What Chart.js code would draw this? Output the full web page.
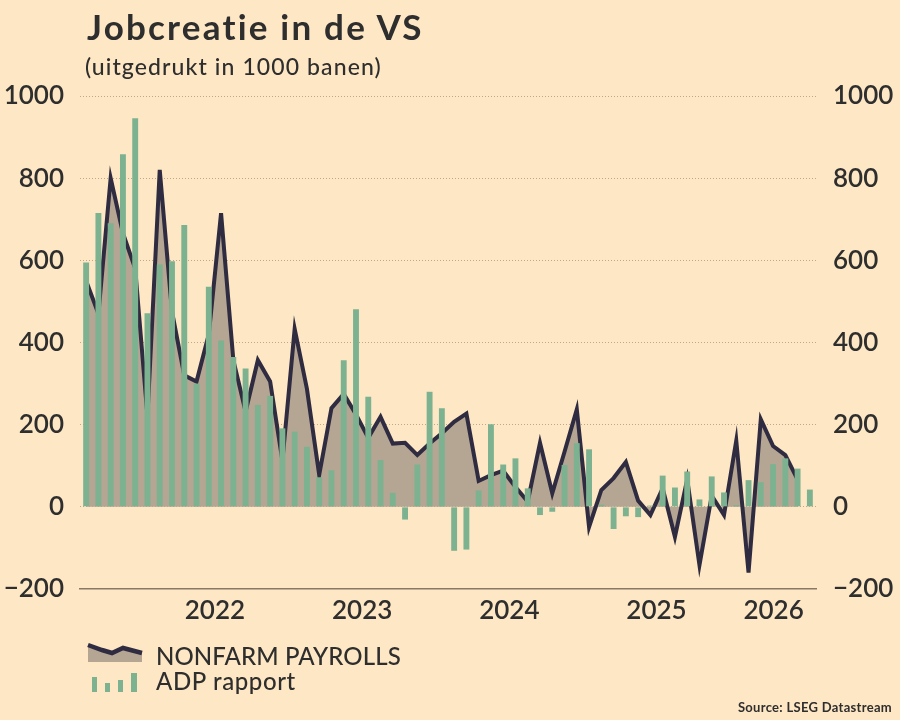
<!DOCTYPE html>
<html><head><meta charset="utf-8">
<script src="https://cdn.jsdelivr.net/npm/chart.js@4.4.1/dist/chart.umd.min.js"></script>
<style>
html,body{margin:0;padding:0;background:#fee7c4;}
#wrap{position:relative;width:900px;height:720px;overflow:hidden;font-family:Lato,'Noto Sans',sans-serif;color:#2e2e2e;background:#fee7c4;}
#c{position:absolute;left:0;top:0;}
.t{position:absolute;white-space:nowrap;line-height:1;}
#title{left:87px;top:9px;font-size:35px;font-weight:700;letter-spacing:2.2px;}
#sub{left:85px;top:55px;font-size:23px;font-weight:500;letter-spacing:1.1px;}
#l1{left:156px;top:644px;font-size:24px;font-weight:500;letter-spacing:0.1px;}
#l2{left:156px;top:669px;font-size:24px;font-weight:500;letter-spacing:0.6px;}
#src{right:8px;top:701px;font-size:13px;font-weight:700;letter-spacing:0.3px;}
svg{position:absolute;left:0;top:0;}
</style></head>
<body><div id="wrap">
<canvas id="c" width="900" height="720"></canvas>
<div class="t" id="title">Jobcreatie in de VS</div>
<div class="t" id="sub">(uitgedrukt in 1000 banen)</div>
<svg width="900" height="720" style="pointer-events:none">
  <polygon points="88,645 102,650 112,653 123,648 142,653 142,662 88,662" fill="#b5a593"/>
  <polyline points="88,645 102,650 112,653 123,648 142,653" fill="none" stroke="#2f2b40" stroke-width="4.5" stroke-linejoin="miter"/>
  <rect x="92" y="677" width="5" height="15" fill="#7db291"/>
  <rect x="105" y="683" width="5" height="9" fill="#7db291"/>
  <rect x="118" y="680" width="5" height="12" fill="#7db291"/>
  <rect x="131" y="673" width="6" height="19" fill="#7db291"/>
</svg>
<div class="t" id="l1">NONFARM PAYROLLS</div>
<div class="t" id="l2">ADP rapport</div>
<div class="t" id="src">Source: LSEG Datastream</div>
</div>
<script>
const months = [
 '2021-02','2021-03','2021-04','2021-05','2021-06','2021-07','2021-08','2021-09','2021-10','2021-11','2021-12',
 '2022-01','2022-02','2022-03','2022-04','2022-05','2022-06','2022-07','2022-08','2022-09','2022-10','2022-11','2022-12',
 '2023-01','2023-02','2023-03','2023-04','2023-05','2023-06','2023-07','2023-08','2023-09','2023-10','2023-11','2023-12',
 '2024-01','2024-02','2024-03','2024-04','2024-05','2024-06','2024-07','2024-08','2024-09','2024-10','2024-11','2024-12',
 '2025-01','2025-02','2025-03','2025-04','2025-05','2025-06','2025-07','2025-08','2025-09','2025-10','2025-11','2025-12',
 '2026-01'];
const nonfarm = [
 550,470,800,666,580,220,820,475,320,305,420,
 715,357,232,357,305,112,433,287,78,240,275,225,
 168,219,154,156,126,154,179,207,227,63,77,88,
 48,13,156,33,134,237,-49,41,70,109,15,-20,
 45,-73,67,-142,27,-20,161,-160,213,148,126,66];
const adp = [
 595,715,690,858,946,471,590,598,686,300,536,
 405,365,337,248,270,191,183,146,72,89,357,481,
 268,114,34,-31,103,280,240,-107,-104,40,201,103,
 118,45,-20,-12,102,155,140,5,-54,-23,-25,3,
 76,47,86,18,74,35,4,65,60,104,118,93,
 42];
const yearTicks = ['2022','2023','2024','2025','2026'];
const yTicks = [-200,0,200,400,600,800,1000];

const TXT = '#2e2e2e';
const tickFont = {family:'Lato', size:26, weight:'600'};
const fmt = v => (v < 0 ? '\u2212' + Math.abs(v) : String(v));

const yearPlugin = {
  id:'years',
  afterDraw(chart){
    const x = chart.scales.x, ctx = chart.ctx;
    ctx.save();
    ctx.font = '600 26px Lato';
    ctx.fillStyle = TXT;
    ctx.textBaseline = 'middle';
    const half = (x.getPixelForValue(1) - x.getPixelForValue(0)) / 2;
    yearTicks.forEach((yr, k) => {
      const idx = months.indexOf(yr + '-01');
      if (idx < 0) return;
      const px = x.getPixelForValue(idx) - half;
      ctx.textAlign = (k === yearTicks.length - 1) ? 'right' : 'center';
      ctx.fillText(yr, px, 611);
    });
    ctx.restore();
  }
};

new Chart(document.getElementById('c'), {
  data:{
    labels: months,
    datasets:[
      {type:'line', label:'NONFARM PAYROLLS', data: nonfarm, order:2,
       borderColor:'#2f2b40', borderWidth:4, backgroundColor:'#b5a593',
       fill:'origin', tension:0, pointRadius:0, borderJoinStyle:'miter', borderCapStyle:'butt'},
      {type:'bar', label:'ADP rapport', data: adp, order:1,
       backgroundColor:'#7db291', categoryPercentage:1, barPercentage:0.48}
    ]
  },
  options:{
    responsive:false, animation:false, devicePixelRatio:1,
    layout:{padding:{top:96, left:0, right:0, bottom:0}},
    plugins:{legend:{display:false}, tooltip:{enabled:false}},
    scales:{
      x:{type:'category', offset:true,
         grid:{display:false, drawTicks:false},
         border:{display:true, color:'#8a7866', width:1.5},
         ticks:{display:false},
         afterFit(s){ s.height = 131; }},
      y:{position:'left', min:-200, max:1000,
         afterBuildTicks(s){ s.ticks = yTicks.map(v=>({value:v})); },
         grid:{drawTicks:false, color:(c)=> c.tick && c.tick.value === -200 ? 'rgba(0,0,0,0)' : 'rgba(140,115,90,0.55)', lineWidth:1},
         border:{display:false, dash:[1,2]},
         ticks:{color:TXT, font:tickFont, padding:16, callback:(v)=>fmt(v)},
         afterFit(s){ s.width = 80; }},
      y2:{position:'right', min:-200, max:1000,
         afterBuildTicks(s){ s.ticks = yTicks.map(v=>({value:v})); },
         grid:{display:false, drawTicks:false},
         border:{display:false},
         ticks:{color:TXT, font:tickFont, padding:17, callback:(v)=>fmt(v)},
         afterFit(s){ s.width = 84; }}
    }
  },
  plugins:[yearPlugin]
});
</script>
</body></html>
